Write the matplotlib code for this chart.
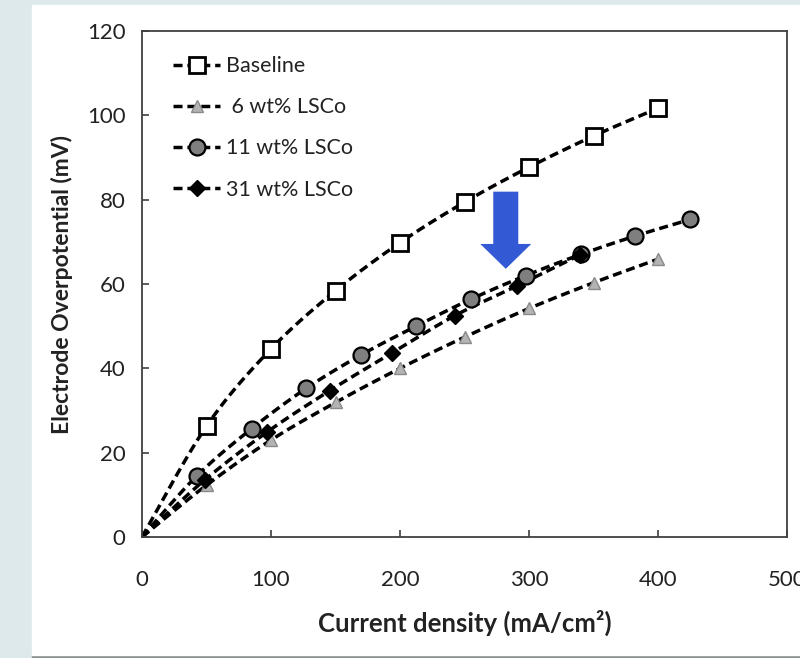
import numpy as np
import matplotlib
matplotlib.use("Agg")
import matplotlib.pyplot as plt
from matplotlib.patches import Rectangle

plt.rcParams['font.family'] = ['Lato', 'DejaVu Sans']

# --------------------------------------------------
# data (mA/cm2 vs mV)
# --------------------------------------------------
base_x = [0, 50, 100, 150, 200, 250, 300, 350, 400]
base_y = [0, 26.3, 44.6, 58.4, 69.8, 79.4, 87.7, 95.1, 101.7]

lsco6_x = [0, 50, 100, 150, 200, 250, 300, 350, 400]
lsco6_y = [0, 12.3, 23.0, 31.9, 40.0, 47.4, 54.2, 60.3, 65.9]

lsco11_x = [0, 42.5, 85, 127.5, 170, 212.5, 255, 297.5, 340, 382.5, 425]
lsco11_y = [0, 14.5, 25.7, 35.3, 43.2, 50.0, 56.4, 62.0, 67.0, 71.4, 75.3]

lsco31_x = [0, 48.5, 97, 145.5, 194, 242.5, 291, 339.5]
lsco31_y = [0, 13.5, 24.9, 34.7, 43.7, 52.5, 59.6, 66.9]

labels = ['Baseline', ' 6 wt% LSCo', '11 wt% LSCo', '31 wt% LSCo']


def smooth(x, y, n=24):
    # excel-style smoothed line (catmull-rom bezier through the points)
    p = np.column_stack([x, y]).astype(float)
    p = np.vstack([p[0], p, p[-1]])
    out = []
    t = np.linspace(0, 1, n)[:, None]
    for i in range(1, len(p) - 2):
        p0, p1, p2, p3 = p[i - 1], p[i], p[i + 1], p[i + 2]
        c1 = p1 + (p2 - p0) / 6
        c2 = p2 - (p3 - p1) / 6
        seg = ((1 - t) ** 3) * p1 + 3 * ((1 - t) ** 2) * t * c1 \
            + 3 * (1 - t) * t ** 2 * c2 + t ** 3 * p2
        out.append(seg)
    out = np.vstack(out)
    return out[:, 0], out[:, 1]


fig = plt.figure(figsize=(8, 6.58), dpi=100, facecolor='#dde9eb')

# white slide panel + bottom shadow
fig.patches.append(Rectangle((32 / 800, 0), 768 / 800, 3 / 658,
                             transform=fig.transFigure, color='#8c9090', zorder=-2))
fig.patches.append(Rectangle((32 / 800, 3 / 658), 768 / 800, 650 / 658,
                             transform=fig.transFigure, color='white', zorder=-1))

ax = fig.add_axes([142 / 800, 121 / 658, 645 / 800, 506 / 658])

dash = (0, (2.6, 1.4))
lw = 2.5
series = [
    (base_x, base_y, dict(marker='s', ms=11, mfc='white', mec='black', mew=2.0)),
    (lsco6_x, lsco6_y, dict(marker='^', ms=9, mfc='#b4b4b4', mec='#8a8a8a', mew=1.0)),
    (lsco11_x, lsco11_y, dict(marker='o', ms=11.5, mfc='#7f7f7f', mec='black', mew=1.6)),
    (lsco31_x, lsco31_y, dict(marker='D', ms=8.5, mfc='black', mec='black', mew=1.0)),
]

handles = []
for (x, y, mk), lab in zip(series, labels):
    sx, sy = smooth(x, y)
    ax.plot(sx, sy, color='black', lw=lw, linestyle=dash, zorder=2)
    ax.plot(x[1:], y[1:], linestyle='none', zorder=3, **mk)
    h, = ax.plot([], [], color='black', lw=lw, linestyle=dash, label=lab, **mk)
    handles.append(h)

# blue arrow
ax.arrow(282, 81.9, 0, -18.3, width=19.4, head_width=39.5, head_length=5.9,
         length_includes_head=True, color='#3359d4', lw=0, zorder=4)

ax.set_xlim(0, 500)
ax.set_ylim(0, 120)
ax.set_xticks([0, 100, 200, 300, 400, 500])
ax.set_yticks([0, 20, 40, 60, 80, 100, 120])
ax.tick_params(direction='in', length=5, width=1.2, color='#404040',
               labelsize=16, labelcolor='#222222')
ax.tick_params(axis='x', pad=24)
ax.tick_params(axis='y', pad=12)
for s in ax.spines.values():
    s.set_linewidth(1.3)
    s.set_color('#404040')

ax.set_xlabel('Current density (mA/cm²)', fontsize=18.5, fontweight='bold',
              labelpad=14, color='#222222')
ax.set_ylabel('Electrode Overpotential (mV)', fontsize=16.5, fontweight='bold',
              labelpad=10, color='#222222')

ax.legend(handles=handles, loc='upper left', bbox_to_anchor=(0.048, 0.950),
          frameon=False, fontsize=15.5, borderpad=0, borderaxespad=0,
          handlelength=2.2, handletextpad=0.25, labelspacing=0.98,
          labelcolor='#222222')

fig.savefig('out.png', dpi=100, facecolor=fig.get_facecolor())
